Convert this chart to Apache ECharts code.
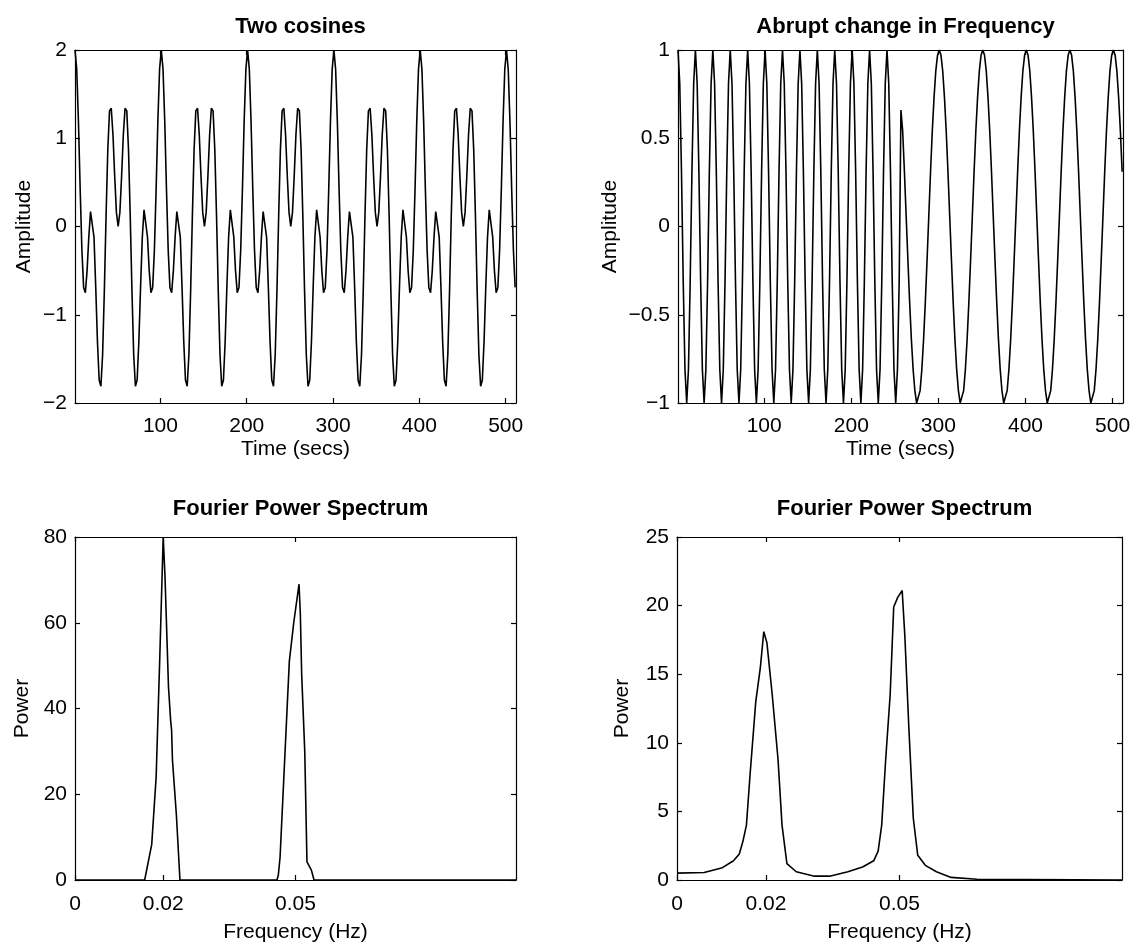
<!DOCTYPE html>
<html><head><meta charset="utf-8">
<script src="https://cdn.jsdelivr.net/npm/echarts@6/dist/echarts.min.js"></script>
<style>html,body{margin:0;padding:0;background:#fff}#chart{width:1135px;height:944px}</style>
</head><body><div id="chart"></div>
<script>
// ---- Data ----
// Samples are taken every 2 s starting at t = 1 s
const SAMPLE_START = 1;
const SAMPLE_STEP = 2;

const twoCosines = [
 2.00, 1.78, 1.19, 0.42, -0.27, -0.69, -0.75, -0.50, -0.12, 0.17,
 0.19, -0.12, -0.68, -1.30, -1.74, -1.81, -1.45, -0.73, 0.12, 0.87,
 1.31, 1.34, 1.04, 0.57, 0.16, 0.00, 0.16, 0.57, 1.04, 1.34,
 1.31, 0.87, 0.12, -0.73, -1.45, -1.81, -1.74, -1.30, -0.68, -0.12,
 0.19, 0.17, -0.12, -0.50, -0.75, -0.69, -0.27, 0.42, 1.19, 1.78,
 2.00, 1.78, 1.19, 0.42, -0.27, -0.69, -0.75, -0.50, -0.12, 0.17,
 0.19, -0.12, -0.68, -1.30, -1.74, -1.81, -1.45, -0.73, 0.12, 0.87,
 1.31, 1.34, 1.04, 0.57, 0.16, 0.00, 0.16, 0.57, 1.04, 1.34,
 1.31, 0.87, 0.12, -0.73, -1.45, -1.81, -1.74, -1.30, -0.68, -0.12,
 0.19, 0.17, -0.12, -0.50, -0.75, -0.69, -0.27, 0.42, 1.19, 1.78,
 2.00, 1.78, 1.19, 0.42, -0.27, -0.69, -0.75, -0.50, -0.12, 0.17,
 0.19, -0.12, -0.68, -1.30, -1.74, -1.81, -1.45, -0.73, 0.12, 0.87,
 1.31, 1.34, 1.04, 0.57, 0.16, 0.00, 0.16, 0.57, 1.04, 1.34,
 1.31, 0.87, 0.12, -0.73, -1.45, -1.81, -1.74, -1.30, -0.68, -0.12,
 0.19, 0.17, -0.12, -0.50, -0.75, -0.69, -0.27, 0.42, 1.19, 1.78,
 2.00, 1.78, 1.19, 0.42, -0.27, -0.69, -0.75, -0.50, -0.12, 0.17,
 0.19, -0.12, -0.68, -1.30, -1.74, -1.81, -1.45, -0.73, 0.12, 0.87,
 1.31, 1.34, 1.04, 0.57, 0.16, 0.00, 0.16, 0.57, 1.04, 1.34,
 1.31, 0.87, 0.12, -0.73, -1.45, -1.81, -1.74, -1.30, -0.68, -0.12,
 0.19, 0.17, -0.12, -0.50, -0.75, -0.69, -0.27, 0.42, 1.19, 1.78,
 2.00, 1.78, 1.19, 0.42, -0.27, -0.69, -0.75, -0.50, -0.12, 0.17,
 0.19, -0.12, -0.68, -1.30, -1.74, -1.81, -1.45, -0.73, 0.12, 0.87,
 1.31, 1.34, 1.04, 0.57, 0.16, 0.00, 0.16, 0.57, 1.04, 1.34,
 1.31, 0.87, 0.12, -0.73, -1.45, -1.81, -1.74, -1.30, -0.68, -0.12,
 0.19, 0.17, -0.12, -0.50, -0.75, -0.69, -0.27, 0.42, 1.19, 1.78,
 2.00, 1.78, 1.19, 0.42, -0.27, -0.69
];

const abruptChange = [
 1.00, 0.81, 0.31, -0.31, -0.81, -1.00, -0.81, -0.31, 0.31, 0.81,
 1.00, 0.81, 0.31, -0.31, -0.81, -1.00, -0.81, -0.31, 0.31, 0.81,
 1.00, 0.81, 0.31, -0.31, -0.81, -1.00, -0.81, -0.31, 0.31, 0.81,
 1.00, 0.81, 0.31, -0.31, -0.81, -1.00, -0.81, -0.31, 0.31, 0.81,
 1.00, 0.81, 0.31, -0.31, -0.81, -1.00, -0.81, -0.31, 0.31, 0.81,
 1.00, 0.81, 0.31, -0.31, -0.81, -1.00, -0.81, -0.31, 0.31, 0.81,
 1.00, 0.81, 0.31, -0.31, -0.81, -1.00, -0.81, -0.31, 0.31, 0.81,
 1.00, 0.81, 0.31, -0.31, -0.81, -1.00, -0.81, -0.31, 0.31, 0.81,
 1.00, 0.81, 0.31, -0.31, -0.81, -1.00, -0.81, -0.31, 0.31, 0.81,
 1.00, 0.81, 0.31, -0.31, -0.81, -1.00, -0.81, -0.31, 0.31, 0.81,
 1.00, 0.81, 0.31, -0.31, -0.81, -1.00, -0.81, -0.31, 0.31, 0.81,
 1.00, 0.81, 0.31, -0.31, -0.81, -1.00, -0.81, -0.31, 0.31, 0.81,
 1.00, 0.81, 0.31, -0.31, -0.81, -1.00, -0.81, -0.31,
 0.66, 0.54, 0.31, 0.06, -0.19, -0.43, -0.64, -0.81, -0.93, -1.00, -1.00,
 -0.93, -0.81, -0.64, -0.43, -0.19, 0.06, 0.31, 0.54, 0.73, 0.88, 0.97,
 1.00, 0.97, 0.88, 0.73, 0.54, 0.31, 0.06, -0.19, -0.43, -0.64, -0.81, -0.93, -1.00,
 -1.00, -0.93, -0.81, -0.64, -0.43, -0.19, 0.06, 0.31, 0.54, 0.73, 0.88, 0.97,
 1.00, 0.97, 0.88, 0.73, 0.54, 0.31, 0.06, -0.19, -0.43, -0.64, -0.81, -0.93, -1.00,
 -1.00, -0.93, -0.81, -0.64, -0.43, -0.19, 0.06, 0.31, 0.54, 0.73, 0.88, 0.97,
 1.00, 0.97, 0.88, 0.73, 0.54, 0.31, 0.06, -0.19, -0.43, -0.64, -0.81, -0.93, -1.00,
 -1.00, -0.93, -0.81, -0.64, -0.43, -0.19, 0.06, 0.31, 0.54, 0.73, 0.88, 0.97,
 1.00, 0.97, 0.88, 0.73, 0.54, 0.31, 0.06, -0.19, -0.43, -0.64, -0.81, -0.93, -1.00,
 -1.00, -0.93, -0.81, -0.64, -0.43, -0.19, 0.06, 0.31, 0.54, 0.73, 0.88, 0.97,
 1.00, 0.97, 0.88, 0.73, 0.54, 0.31
];

const spectrumFreqTwoCos = [0, 0.0158, 0.0174, 0.0184, 0.0192, 0.0200, 0.0204, 0.0212, 0.0217, 0.0219, 0.0221, 0.0230, 0.0238,
  0.0458, 0.0461, 0.0465, 0.0472, 0.0486, 0.0496, 0.0508, 0.0511, 0.0514, 0.0521, 0.0526, 0.0536, 0.0542, 0.1];
const spectrumPowerTwoCos = [0, 0, 8.3, 24, 51, 80, 71, 45, 37, 35, 28, 15, 0,
  0, 1.1, 5.3, 20.5, 51, 60, 69, 62, 48, 30, 4.2, 2.3, 0, 0];

const spectrumFreqAbrupt = [0, 0.0061, 0.0102, 0.0127, 0.0140, 0.0148, 0.0156, 0.0164, 0.0177, 0.0187, 0.0195, 0.0202,
  0.0214, 0.0227, 0.0236, 0.0247, 0.0268, 0.0309, 0.0343, 0.0384, 0.0417, 0.0442, 0.0452, 0.0460, 0.0469,
  0.0479, 0.0487, 0.0496, 0.0506, 0.0512, 0.0521, 0.0531, 0.0541, 0.0558, 0.0583, 0.0616, 0.0674, 0.1];
const spectrumPowerAbrupt = [0.5, 0.55, 0.9, 1.4, 1.9, 2.8, 4.0, 7.6, 13.0, 15.4, 18.1, 17.3,
  13.5, 8.8, 4.0, 1.2, 0.6, 0.28, 0.28, 0.6, 0.95, 1.4, 2.1, 4.0, 8.8,
  13.5, 19.9, 20.6, 21.1, 17.8, 11.1, 4.5, 1.8, 1.07, 0.6, 0.19, 0.05, 0];

const timeTickValues = [100, 200, 300, 400, 500];
const freqTickValues = [0, 0.02, 0.05];

const panelTitles = ['Two cosines', 'Abrupt change in Frequency', 'Fourier Power Spectrum', 'Fourier Power Spectrum'];
const xAxisNames = ['Time (secs)', 'Time (secs)', 'Frequency (Hz)', 'Frequency (Hz)'];
const yAxisNames = ['Amplitude', 'Amplitude', 'Power', 'Power'];

// ---- Layout / style ----
const FONT = 'Liberation Sans, Arial, Helvetica, sans-serif';
const panels = [
  {left: 75, top: 50, width: 441, height: 353, xmin: 1, xmax: 512, xticks: timeTickValues,
   ymin: -2, ymax: 2, yint: 1, nameGapY: 40, nameGapX: 36, labelMarginX: 13, titleTop: 11},
  {left: 678, top: 50, width: 445, height: 353, xmin: 1, xmax: 512, xticks: timeTickValues,
   ymin: -1, ymax: 1, yint: 0.5, nameGapY: 57, nameGapX: 36, labelMarginX: 13, titleTop: 11},
  {left: 75, top: 537, width: 441, height: 346, xmin: 0, xmax: 0.1, xticks: freqTickValues,
   ymin: 0, ymax: 80, yint: 20, nameGapY: 42, nameGapX: 42, labelMarginX: 14, titleTop: 493},
  {left: 677, top: 537, width: 445, height: 346, xmin: 0, xmax: 0.1, xticks: freqTickValues,
   ymin: 0, ymax: 25, yint: 5, nameGapY: 44, nameGapX: 42, labelMarginX: 14, titleTop: 493}
];

function pairs(xs, ys) { return ys.map((y, i) => [xs[i], y]); }
const sampleTimes = twoCosines.map((_, k) => SAMPLE_START + SAMPLE_STEP * k);
const seriesData = [
  pairs(sampleTimes, twoCosines),
  pairs(sampleTimes, abruptChange),
  pairs(spectrumFreqTwoCos, spectrumPowerTwoCos),
  pairs(spectrumFreqAbrupt, spectrumPowerAbrupt)
];

const minusFmt = v => String(v).replace('-', '\u2212');
const lineStyle = {color: '#000', width: 1.2};
const labelStyle = {color: '#000', fontSize: 21, fontFamily: FONT};
const nameStyle = {color: '#000', fontSize: 21, fontFamily: FONT};

const grid = [], xAxis = [], yAxis = [], series = [], title = [];
panels.forEach((p, i) => {
  grid.push({left: p.left, top: p.top, width: p.width, height: p.height, containLabel: false});
  title.push({text: panelTitles[i], left: p.left + p.width / 2, top: p.titleTop, textAlign: 'center',
    textStyle: {fontFamily: FONT, fontSize: 22, fontWeight: 'bold', color: '#000'}});
  const xBase = {gridIndex: i, type: 'value', min: p.xmin, max: p.xmax, splitLine: {show: false},
    axisLine: {show: true, onZero: false, lineStyle}};
  xAxis.push(Object.assign({}, xBase, {position: 'bottom',
    axisTick: {show: true, inside: true, length: 5, customValues: p.xticks, lineStyle},
    axisLabel: Object.assign({show: true, margin: p.labelMarginX, customValues: p.xticks, formatter: minusFmt}, labelStyle),
    name: xAxisNames[i], nameLocation: 'middle', nameGap: p.nameGapX, nameTextStyle: nameStyle}));
  xAxis.push(Object.assign({}, xBase, {position: 'top',
    axisTick: {show: true, inside: true, length: 5, customValues: p.xticks, lineStyle},
    axisLabel: {show: false}}));
  const yBase = {gridIndex: i, type: 'value', min: p.ymin, max: p.ymax, interval: p.yint,
    splitLine: {show: false}, axisLine: {show: true, onZero: false, lineStyle}};
  yAxis.push(Object.assign({}, yBase, {position: 'left',
    axisTick: {show: true, inside: true, length: 5, lineStyle},
    axisLabel: Object.assign({show: true, margin: 8, formatter: minusFmt}, labelStyle),
    name: yAxisNames[i], nameLocation: 'middle', nameGap: p.nameGapY, nameRotate: 90, nameTextStyle: nameStyle}));
  yAxis.push(Object.assign({}, yBase, {position: 'right',
    axisTick: {show: true, inside: true, length: 5, lineStyle},
    axisLabel: {show: false}}));
  series.push({type: 'line', xAxisIndex: 2 * i, yAxisIndex: 2 * i, data: seriesData[i],
    showSymbol: false, symbol: 'none', lineStyle: {color: '#000', width: 1.6}, silent: true});
});

const chart = echarts.init(document.getElementById('chart'), null, {renderer: 'canvas'});
chart.setOption({animation: false, backgroundColor: '#fff', title, grid, xAxis, yAxis, series});
</script>
</body></html>
